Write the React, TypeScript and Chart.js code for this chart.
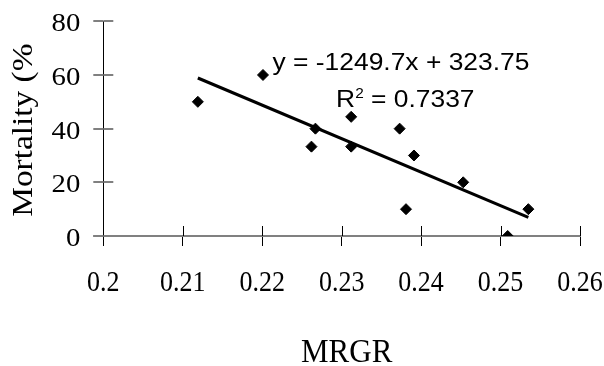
import React, { useEffect, useRef } from 'react';
import { Chart, registerables } from 'chart.js';

Chart.register(...registerables);

// ---- data ----
const mrgr = [0.2119, 0.2201, 0.2267, 0.2262, 0.2312, 0.2312, 0.2373, 0.2391, 0.2381, 0.2453, 0.2535, 0.2509];
const mortality = [50, 60, 40, 33.3, 44.4, 33.3, 40, 30, 10, 20, 10, 0];

const xTickValues = [0.2, 0.21, 0.22, 0.23, 0.24, 0.25, 0.26];
const xTickLabels = ['0.2', '0.21', '0.22', '0.23', '0.24', '0.25', '0.26'];
const yTickValues = [0, 20, 40, 60, 80];
const yTickLabels = ['0', '20', '40', '60', '80'];

const xTitle = 'MRGR';
const yTitle = 'Mortality (%';
const equationText = 'y = -1249.7x + 323.75';
const r2Label = 'R';
const r2Sup = '2';
const r2Rest = ' = 0.7337';

function fitLine(xs: number[], ys: number[]) {
  const n = xs.length;
  const mx = xs.reduce((a, b) => a + b, 0) / n;
  const my = ys.reduce((a, b) => a + b, 0) / n;
  let sxy = 0;
  let sxx = 0;
  for (let i = 0; i < n; i++) {
    sxy += (xs[i] - mx) * (ys[i] - my);
    sxx += (xs[i] - mx) * (xs[i] - mx);
  }
  const slope = sxy / sxx;
  const intercept = my - slope * mx;
  const xmin = Math.min(...xs);
  const xmax = Math.max(...xs);
  return [
    { x: xmin, y: slope * xmin + intercept },
    { x: xmax, y: slope * xmax + intercept },
  ];
}

const SERIF = '"Liberation Serif", "Times New Roman", serif';
const SANS = '"Liberation Sans", Arial, sans-serif';

// draw text anchored at (x, baseline y) with independent x/y stretch
function drawText(
  ctx: CanvasRenderingContext2D,
  text: string,
  x: number,
  y: number,
  font: string,
  align: CanvasTextAlign,
  sx: number,
  sy: number,
  rotate = 0
) {
  ctx.save();
  ctx.translate(x, y);
  if (rotate) ctx.rotate(rotate);
  ctx.scale(sx, sy);
  ctx.font = font;
  ctx.textAlign = align;
  ctx.textBaseline = 'alphabetic';
  ctx.fillStyle = '#000';
  ctx.fillText(text, 0, 0);
  ctx.restore();
}

const crossTicks = {
  id: 'crossTicks',
  beforeDatasetsDraw(chart: any) {
    const { ctx, chartArea, scales } = chart;
    const x = scales.x;
    const y = scales.y;
    ctx.save();
    ctx.strokeStyle = '#808080';
    ctx.lineWidth = 2;
    const y0 = Math.round(y.getPixelForValue(0));
    ctx.beginPath();
    ctx.moveTo(chartArea.left - 10, y0);
    ctx.lineTo(chartArea.left, y0);
    ctx.stroke();
    ctx.strokeStyle = '#000';
    ctx.lineWidth = 1;
    x.ticks.forEach((t: any) => {
      const px = Math.round(x.getPixelForValue(t.value)) + 0.5;
      ctx.beginPath();
      ctx.moveTo(px, chartArea.bottom);
      ctx.lineTo(px, chartArea.bottom - 10);
      ctx.stroke();
    });
    ctx.strokeStyle = '#808080';
    ctx.lineWidth = 2;
    y.ticks.forEach((t: any) => {
      const py = Math.round(y.getPixelForValue(t.value));
      ctx.beginPath();
      ctx.moveTo(chartArea.left, py);
      ctx.lineTo(chartArea.left + 10, py);
      ctx.stroke();
    });
    ctx.restore();
  },
};

const axisText = {
  id: 'axisText',
  afterDraw(chart: any) {
    const { ctx, chartArea, scales } = chart;
    const x = scales.x;
    const y = scales.y;
    // x tick labels
    x.ticks.forEach((t: any, i: number) => {
      drawText(ctx, xTickLabels[i], x.getPixelForValue(t.value), chartArea.bottom + 55, `26px ${SERIF}`, 'center', 1, 1.14);
    });
    // y tick labels
    y.ticks.forEach((t: any, i: number) => {
      drawText(ctx, yTickLabels[i], chartArea.left - 23, y.getPixelForValue(t.value) + 10, `25px ${SERIF}`, 'right', 1.15, 1);
    });
    // x title
    drawText(ctx, xTitle, (chartArea.left + chartArea.right) / 2 + 5, chart.height - 4.3, `31px ${SERIF}`, 'center', 1, 1.09);
    // y title (rotated)
    drawText(ctx, yTitle, 32, (chartArea.top + chartArea.bottom) / 2 + 1.5, `29px ${SERIF}`, 'center', 1.15, 1, -Math.PI / 2);
  },
};

const equationLabels = {
  id: 'equationLabels',
  afterDatasetsDraw(chart: any) {
    const { ctx, scales } = chart;
    const x = scales.x;
    const y = scales.y;
    const sx = 1.1;
    drawText(ctx, equationText, x.getPixelForValue(0.2213), y.getPixelForValue(61.8), `24px ${SANS}`, 'left', sx, 1);

    let px = x.getPixelForValue(0.2293);
    const py = y.getPixelForValue(47.9);
    ctx.save();
    ctx.font = `24px ${SANS}`;
    const wR = ctx.measureText(r2Label).width * sx;
    ctx.font = `14px ${SANS}`;
    const w2 = ctx.measureText(r2Sup).width * sx;
    ctx.restore();
    drawText(ctx, r2Label, px, py, `24px ${SANS}`, 'left', sx, 1);
    px += wR;
    drawText(ctx, r2Sup, px, py - 9.8, `14px ${SANS}`, 'left', sx, 1);
    px += w2;
    drawText(ctx, r2Rest, px, py, `24px ${SANS}`, 'left', sx, 1);
  },
};

export default function App() {
  const canvasRef = useRef<HTMLCanvasElement | null>(null);

  useEffect(() => {
    const canvas = canvasRef.current;
    if (!canvas) return;
    const points = mrgr.map((v, i) => ({ x: v, y: mortality[i] }));
    const trend = fitLine(mrgr, mortality);

    const chart = new Chart(canvas, {
      type: 'scatter',
      data: {
        datasets: [
          {
            type: 'line',
            label: 'Trend',
            data: trend,
            borderColor: '#000',
            borderWidth: 3,
            pointRadius: 0,
            showLine: true,
            fill: false,
          } as any,
          {
            label: 'Mortality',
            data: points,
            pointStyle: 'rectRot',
            pointRadius: 5.5,
            backgroundColor: '#000',
            borderColor: '#000',
            borderWidth: 1,
          },
        ],
      },
      options: {
        responsive: false,
        animation: false,
        events: [],
        layout: { padding: { top: 21.3, right: 24, bottom: 0, left: 0 } },
        plugins: {
          legend: { display: false },
          tooltip: { enabled: false },
        },
        scales: {
          x: {
            type: 'linear',
            min: 0.2,
            max: 0.26,
            afterBuildTicks: (scale: any) => {
              scale.ticks = xTickValues.map((v) => ({ value: v }));
            },
            afterFit: (scale: any) => {
              scale.height = 130;
            },
            ticks: { display: false },
            grid: {
              drawOnChartArea: false,
              drawTicks: true,
              tickLength: 10,
              color: '#000',
              lineWidth: 1,
            },
            border: { display: true, color: '#808080', width: 2 },
            title: { display: false },
          },
          y: {
            type: 'linear',
            min: 0,
            max: 80,
            afterBuildTicks: (scale: any) => {
              scale.ticks = yTickValues.map((v) => ({ value: v }));
            },
            afterFit: (scale: any) => {
              scale.width = 103.3;
            },
            ticks: { display: false },
            grid: {
              drawOnChartArea: false,
              drawTicks: true,
              tickLength: 10,
              color: '#808080',
              lineWidth: 2,
            },
            border: { display: true, color: '#000', width: 1 },
            title: { display: false },
          },
        },
      },
      plugins: [crossTicks, equationLabels, axisText],
    });

    return () => {
      chart.destroy();
    };
  }, []);

  return (
    <div style={{ position: 'fixed', left: 0, top: 0, width: 604, height: 366, background: '#fff' }}>
      <canvas ref={canvasRef} width={604} height={366} style={{ display: 'block' }} />
    </div>
  );
}
